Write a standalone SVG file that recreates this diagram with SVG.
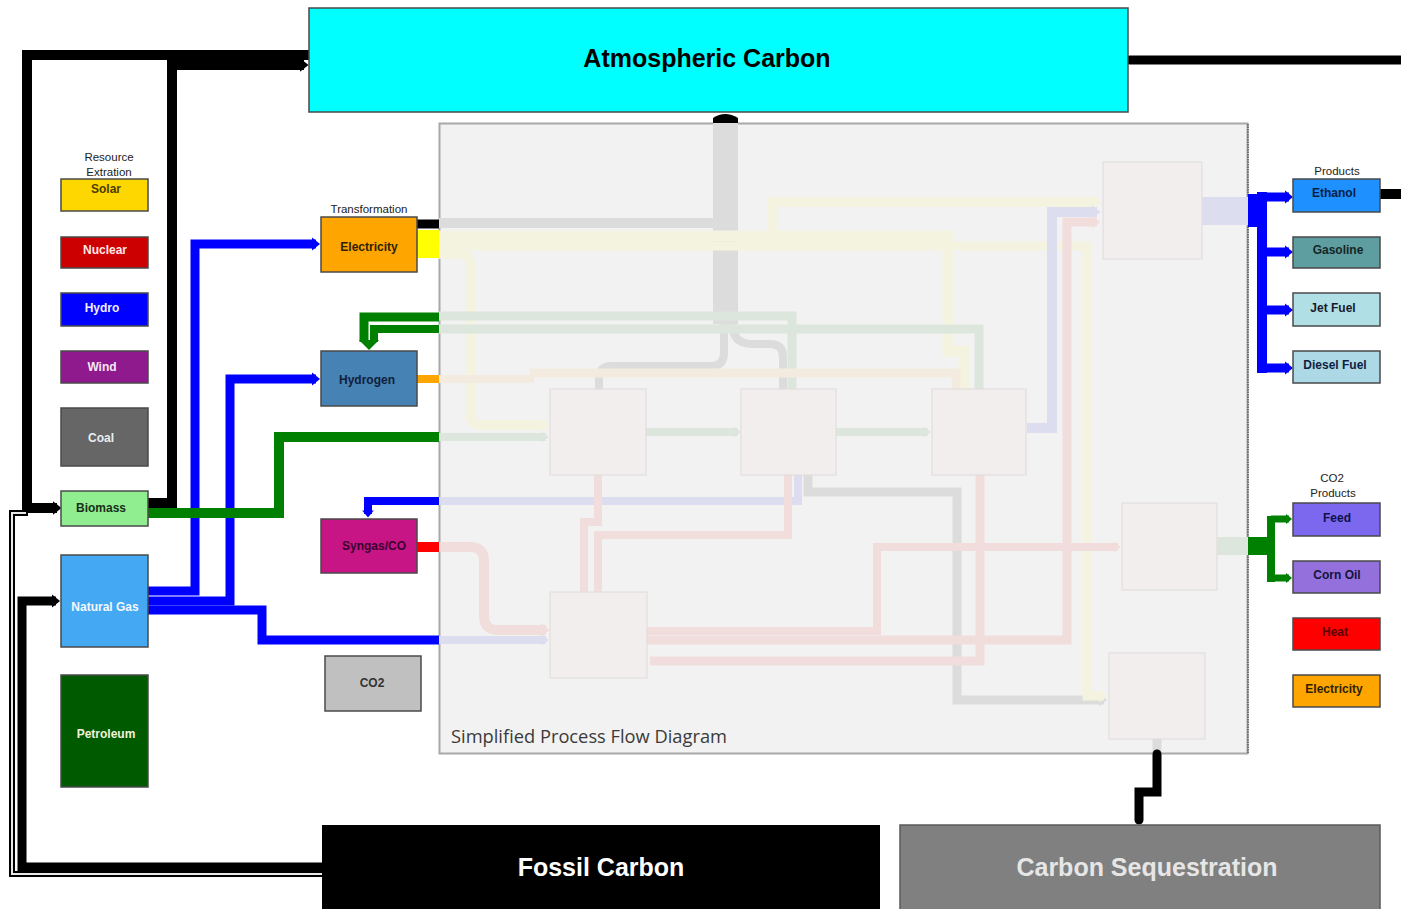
<svg xmlns="http://www.w3.org/2000/svg" width="1401" height="909" viewBox="0 0 1401 909">
<style>
.nd{stroke:#4a4a4a;stroke-width:1.5}
.pb{fill:#F2EEEE;stroke:#E2DEDE;stroke-width:1.2}
.lbl{font-family:"Liberation Sans",Arial,sans-serif;font-weight:bold;font-size:12px;text-anchor:middle}
.cap{font-family:"Liberation Sans",Arial,sans-serif;font-size:11.5px;fill:#222;text-anchor:middle}
.big{font-family:"Liberation Sans",Arial,sans-serif;font-weight:bold;font-size:25px;text-anchor:middle}
.f{fill:none;stroke-linejoin:miter}
.k{stroke:#000}
.b{stroke:#0000FF}
.g{stroke:#008000}
.fg{stroke:#DCDCDC}
.fy{stroke:#F4F3DF}
.fgr{stroke:#DCE6DC}
.fo{stroke:#F3EBE0}
.fb{stroke:#DDDDF0}
.fp{stroke:#F2DDDD}
</style>
<defs>
<marker id="mk" viewBox="0 0 10 16" refX="5" refY="8" markerWidth="0.9" markerHeight="1.45" orient="auto" markerUnits="strokeWidth"><path d="M0,0 L10,8 L0,16 z" fill="#000"/></marker>
<marker id="mb" viewBox="0 0 10 16" refX="5" refY="8" markerWidth="0.9" markerHeight="1.45" orient="auto" markerUnits="strokeWidth"><path d="M0,0 L10,8 L0,16 z" fill="#0000FF"/></marker>
<marker id="mg" viewBox="0 0 10 16" refX="5" refY="8" markerWidth="0.9" markerHeight="1.45" orient="auto" markerUnits="strokeWidth"><path d="M0,0 L10,8 L0,16 z" fill="#008000"/></marker>
<marker id="mfg" viewBox="0 0 10 16" refX="6" refY="8" markerWidth="1" markerHeight="1.4" orient="auto" markerUnits="strokeWidth"><path d="M0,0 L10,8 L0,16 z" fill="#DCDCDC"/></marker>
<marker id="mfy" viewBox="0 0 10 16" refX="6" refY="8" markerWidth="1" markerHeight="1.4" orient="auto" markerUnits="strokeWidth"><path d="M0,0 L10,8 L0,16 z" fill="#F4F3DF"/></marker>
<marker id="mfgr" viewBox="0 0 10 16" refX="6" refY="8" markerWidth="1" markerHeight="1.4" orient="auto" markerUnits="strokeWidth"><path d="M0,0 L10,8 L0,16 z" fill="#DCE6DC"/></marker>
<marker id="mfb" viewBox="0 0 10 16" refX="6" refY="8" markerWidth="1" markerHeight="1.4" orient="auto" markerUnits="strokeWidth"><path d="M0,0 L10,8 L0,16 z" fill="#DDDDF0"/></marker>
<marker id="mfp" viewBox="0 0 10 16" refX="6" refY="8" markerWidth="1" markerHeight="1.4" orient="auto" markerUnits="strokeWidth"><path d="M0,0 L10,8 L0,16 z" fill="#F2DDDD"/></marker>
</defs>
<rect width="1401" height="909" fill="#FFFFFF"/>

<g id="panel">
<rect x="439.5" y="123.5" width="808" height="630" fill="#F2F2F2" stroke="#A8A8A8" stroke-width="2"/>
<line x1="1248" y1="124" x2="1248" y2="754" stroke="#555" stroke-width="1.5" stroke-dasharray="1.5,1"/>
<text x="451" y="743" font-family="'Open Sans','Liberation Sans',sans-serif" font-size="18" fill="#3a3a3a" textLength="276" lengthAdjust="spacingAndGlyphs">Simplified Process Flow Diagram</text>
</g>

<g id="connectors">
<path class="f fg" d="M725.5,123 V324" stroke-width="25"/>
<path class="f fg" d="M439,223 H738" stroke-width="10"/>
<path class="f fg" d="M724,322 V353 Q724,366 711,366 H612 Q599,366 599,379 V389" stroke-width="8"/>
<path class="f fg" d="M732,322 Q732,344 752,344 H770 Q783,344 783,357 V389" stroke-width="8"/>
<path class="f fg" d="M808,475 V492 H957 V700 H1104" stroke-width="9" marker-end="url(#mfg)"/>
<path class="f fg" d="M1157,739 V754" stroke-width="9"/>

<path class="f fy" d="M439,236 H948 V351 H964 V389" stroke-width="11"/>
<path class="f fy" d="M439,246 H1087 V696 H1104" stroke-width="9" marker-end="url(#mfy)"/>
<path class="f fy" d="M773,236 V202 H1097" stroke-width="10" marker-end="url(#mfy)"/>
<path class="f fy" d="M439,254 H460 Q470,254 470,264 V413 Q470,425 482,425 H546" stroke-width="10" marker-end="url(#mfy)"/>

<path class="f fgr" d="M439,316 H792 V389" stroke-width="9"/>
<path class="f fgr" d="M439,329 H979 V389" stroke-width="9"/>
<path class="f fgr" d="M439,437 H546" stroke-width="8" marker-end="url(#mfgr)"/>
<path class="f fgr" d="M646,432 H738" stroke-width="8" marker-end="url(#mfgr)"/>
<path class="f fgr" d="M836,432 H928" stroke-width="8" marker-end="url(#mfgr)"/>
<rect x="1217" y="537" width="31" height="18" fill="#DCE6DC"/>

<path class="f fo" d="M439,379 H534" stroke-width="8"/>
<path class="f fo" d="M530,373 H956 V389" stroke-width="9"/>

<path class="f fb" d="M439,640 H546" stroke-width="8" marker-end="url(#mfb)"/>
<path class="f fb" d="M439,501 H798 V475" stroke-width="8"/>
<path class="f fb" d="M1027,428 H1052 V212 H1097" stroke-width="10" marker-end="url(#mfb)"/>
<rect x="1202" y="197" width="46" height="28" fill="#DDDDF0"/>

<path class="f fp" d="M439,547 H470 Q484,547 484,561 V616 Q484,630 498,630 H546" stroke-width="10" marker-end="url(#mfp)"/>
<path class="f fp" d="M598,475 V522 H584 V592" stroke-width="8"/>
<path class="f fp" d="M598,592 V535 H788 V475" stroke-width="8"/>
<path class="f fp" d="M647,631 H877 V547 H1118" stroke-width="8" marker-end="url(#mfp)"/>
<path class="f fp" d="M647,640 H1067 V222 H1097" stroke-width="9" marker-end="url(#mfp)"/>
<path class="f fp" d="M650,661 H980 V475" stroke-width="9"/>

<path class="f k" d="M309,55 H27 V508 H57" stroke-width="10" marker-end="url(#mk)"/>
<path class="f k" d="M148,503 H172 V65 H304" stroke-width="10" marker-end="url(#mk)"/>
<path class="f k" d="M322,867 H22 V601 H56" stroke-width="9" marker-end="url(#mk)"/>
<path class="f k" d="M322,874 H12 V513 H28" stroke-width="6"/>
<path class="f" d="M322,874 H12 V513 H26" stroke="#E8E8E8" stroke-width="2"/>
<path class="f k" d="M1130,60 H1401" stroke-width="9" stroke-linecap="round"/>
<path class="f k" d="M1380,194 H1401" stroke-width="10"/>
<path class="f k" d="M1157,754 V792 H1139 V820" stroke-width="9" stroke-linecap="round"/>
<path class="f k" d="M417,224 H439" stroke-width="9"/>
<path d="M713,123 V118 Q725,110 738,118 V123 Z" fill="#000"/>

<rect x="417" y="230" width="22" height="28" fill="#FFFF00"/>
<rect x="417" y="375" width="22" height="8" fill="#FFA500"/>
<rect x="417" y="542" width="22" height="10" fill="#FF0000"/>

<path class="f b" d="M148,591 H195 V244 H316" stroke-width="9" marker-end="url(#mb)"/>
<path class="f b" d="M148,601 H230 V379 H316" stroke-width="9" marker-end="url(#mb)"/>
<path class="f b" d="M148,610 H262 V640 H439" stroke-width="9"/>
<path class="f b" d="M439,501 H368 V514" stroke-width="8" marker-end="url(#mb)"/>
<rect x="1248" y="194" width="19" height="33" fill="#0000FF"/>
<path class="f b" d="M1262,192 V373" stroke-width="10"/>
<path class="f b" d="M1262,197 H1289" stroke-width="9" marker-end="url(#mb)"/>
<path class="f b" d="M1262,252 H1289" stroke-width="9" marker-end="url(#mb)"/>
<path class="f b" d="M1262,310 H1289" stroke-width="9" marker-end="url(#mb)"/>
<path class="f b" d="M1262,368 H1289" stroke-width="9" marker-end="url(#mb)"/>

<path class="f g" d="M148,513 H279 V437 H439" stroke-width="10"/>
<path class="f g" d="M439,317 H364 V342" stroke-width="9"/>
<path class="f g" d="M439,329 H374 V342" stroke-width="8"/>
<path d="M359,340 H379 L369,350 Z" fill="#008000"/>
<rect x="1248" y="537" width="27" height="18" fill="#008000"/>
<path class="f g" d="M1271,516 V582" stroke-width="8"/>
<path class="f g" d="M1271,519 H1289" stroke-width="7" marker-end="url(#mg)"/>
<path class="f g" d="M1271,578 H1289" stroke-width="7" marker-end="url(#mg)"/>
</g>

<g id="process-boxes">
<rect id="pA" class="pb" x="550" y="389" width="96" height="86"/>
<rect id="pB" class="pb" x="741" y="389" width="95" height="86"/>
<rect id="pC" class="pb" x="932" y="389" width="94" height="86"/>
<rect id="pD" class="pb" x="1103" y="162" width="99" height="97"/>
<rect id="pE" class="pb" x="1122" y="503" width="95" height="87"/>
<rect id="pF" class="pb" x="1109" y="653" width="96" height="86"/>
<rect id="pG" class="pb" x="550" y="592" width="97" height="86"/>
</g>

<g id="atmospheric-carbon">
<rect class="nd" x="309" y="8" width="819" height="104" fill="#00FFFF"/>
<text class="big" x="707" y="67" fill="#000">Atmospheric Carbon</text>
</g>
<g id="fossil-carbon">
<rect x="322" y="825" width="558" height="90" fill="#000"/>
<text class="big" x="601" y="876" fill="#FFF">Fossil Carbon</text>
</g>
<g id="carbon-sequestration">
<rect x="900" y="825" width="480" height="90" fill="#808080" stroke="#5a5a5a" stroke-width="1.5"/>
<text class="big" x="1147" y="876" fill="#E6E6E6">Carbon Sequestration</text>
</g>

<g id="resource-label">
<text class="cap" x="109" y="161">Resource</text>
<text class="cap" x="109" y="176">Extration</text>
</g>
<g id="solar"><rect class="nd" x="61" y="179" width="87" height="32" fill="#FFD700"/><text class="lbl" x="106" y="193" fill="#4a3d00">Solar</text></g>
<g id="nuclear"><rect class="nd" x="61" y="237" width="87" height="31" fill="#CC0000"/><text class="lbl" x="105" y="254" fill="#FFE8E8">Nuclear</text></g>
<g id="hydro"><rect class="nd" x="61" y="293" width="87" height="33" fill="#0000FF"/><text class="lbl" x="102" y="312" fill="#EEEEFF">Hydro</text></g>
<g id="wind"><rect class="nd" x="61" y="351" width="87" height="32" fill="#8E1A8E"/><text class="lbl" x="102" y="371" fill="#F4E8F4">Wind</text></g>
<g id="coal"><rect class="nd" x="61" y="408" width="87" height="58" fill="#666666"/><text class="lbl" x="101" y="442" fill="#E8EEF4">Coal</text></g>
<g id="biomass"><rect class="nd" x="61" y="491" width="87" height="35" fill="#90EE90"/><text class="lbl" x="101" y="512" fill="#1a2e1a">Biomass</text></g>
<g id="natural-gas"><rect class="nd" x="61" y="555" width="87" height="92" fill="#45A8F2"/><text class="lbl" x="105" y="611" fill="#F4F8FF">Natural Gas</text></g>
<g id="petroleum"><rect class="nd" x="61" y="675" width="87" height="112" fill="#005A00"/><text class="lbl" x="106" y="738" fill="#F2F2D8">Petroleum</text></g>

<g id="transformation-label"><text class="cap" x="369" y="213">Transformation</text></g>
<g id="electricity-t"><rect class="nd" x="321" y="217" width="96" height="55" fill="#FFA500"/><text class="lbl" x="369" y="251" fill="#2e2200">Electricity</text></g>
<g id="hydrogen"><rect class="nd" x="321" y="351" width="96" height="55" fill="#4682B4"/><text class="lbl" x="367" y="384" fill="#10203a">Hydrogen</text></g>
<g id="syngas"><rect class="nd" x="321" y="519" width="96" height="54" fill="#C71585"/><text class="lbl" x="374" y="550" fill="#3a0030">Syngas/CO</text></g>
<g id="co2"><rect class="nd" x="325" y="656" width="96" height="55" fill="#C0C0C0"/><text class="lbl" x="372" y="687" fill="#333">CO2</text></g>

<g id="products-label"><text class="cap" x="1337" y="175">Products</text></g>
<g id="ethanol"><rect class="nd" x="1293" y="179" width="87" height="33" fill="#1E90FF"/><text class="lbl" x="1334" y="197" fill="#0a1e46">Ethanol</text></g>
<g id="gasoline"><rect class="nd" x="1293" y="237" width="87" height="31" fill="#5F9EA0"/><text class="lbl" x="1338" y="254" fill="#142626">Gasoline</text></g>
<g id="jet-fuel"><rect class="nd" x="1293" y="293" width="87" height="33" fill="#B0E0E6"/><text class="lbl" x="1333" y="312" fill="#1a1a2a">Jet Fuel</text></g>
<g id="diesel-fuel"><rect class="nd" x="1293" y="351" width="87" height="32" fill="#ADD8E6"/><text class="lbl" x="1335" y="369" fill="#0e1e40">Diesel Fuel</text></g>

<g id="co2-products-label">
<text class="cap" x="1332" y="482">CO2</text>
<text class="cap" x="1333" y="497">Products</text>
</g>
<g id="feed"><rect class="nd" x="1293" y="503" width="87" height="33" fill="#7B68EE"/><text class="lbl" x="1337" y="522" fill="#10104a">Feed</text></g>
<g id="corn-oil"><rect class="nd" x="1293" y="561" width="87" height="32" fill="#9370DB"/><text class="lbl" x="1337" y="579" fill="#14143e">Corn Oil</text></g>
<g id="heat"><rect class="nd" x="1293" y="618" width="87" height="32" fill="#FF0000"/><text class="lbl" x="1335" y="636" fill="#5a0000">Heat</text></g>
<g id="electricity-p"><rect class="nd" x="1293" y="675" width="87" height="32" fill="#FFA500"/><text class="lbl" x="1334" y="693" fill="#2e2200">Electricity</text></g>
</svg>
